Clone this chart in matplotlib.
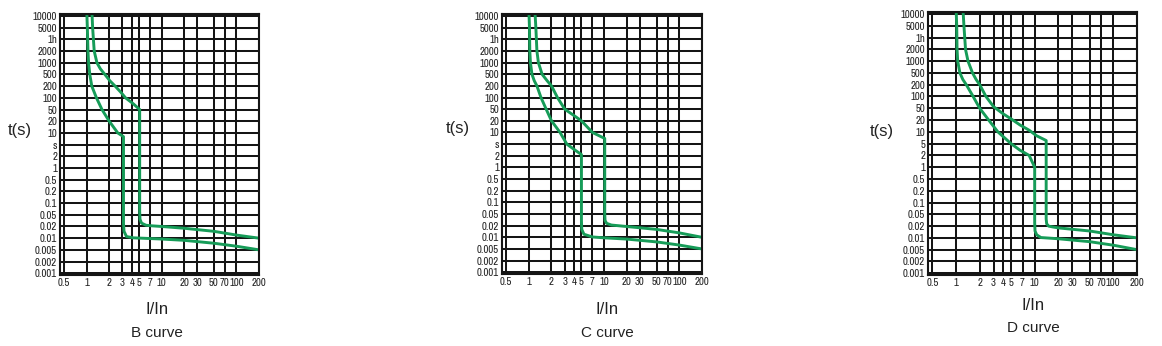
import numpy as np
import matplotlib
matplotlib.use("Agg")
import matplotlib.pyplot as plt
from matplotlib.ticker import FixedLocator, NullLocator
from matplotlib import font_manager

# ---------------- data ----------------
x_ticks = [0.5, 1, 2, 3, 4, 5, 7, 10, 20, 30, 50, 70, 100, 200]
x_tick_labels = ["0.5", "1", "2", "3", "4", "5", "7", "10", "20", "30", "50", "70", "100", "200"]

t_ticks = [0.001, 0.002, 0.005, 0.01, 0.02, 0.05, 0.1, 0.2, 0.5, 1, 2, 5, 10, 20,
           50, 100, 200, 500, 1000, 2000, 3600, 5000, 10000]
t_labels_bc = ["0.001", "0.002", "0.005", "0.01", "0.02", "0.05", "0.1", "0.2", "0.5", "1", "2", "s",
               "10", "20", "50", "100", "200", "500", "1000", "2000", "1h", "5000", "10000"]
t_labels_d = ["0.001", "0.002", "0.005", "0.01", "0.02", "0.05", "0.1", "0.2", "0.5", "1", "2", "5",
              "10", "20", "50", "100", "200", "500", "1000", "2000", "1h", "5000", "10000"]

# B curve
b_upper_x = [1.17, 1.2, 1.26, 1.37, 1.52, 1.75, 2.05, 2.4, 2.85, 3.3, 4.2, 5.1, 5.1, 5.15, 5.4, 6.2, 7.5, 10, 20, 50, 100, 200]
b_upper_t = [15000, 5000, 2000, 1000, 700, 500, 300, 200, 140, 100, 70, 50, 0.06, 0.035, 0.026, 0.022, 0.021, 0.02, 0.018, 0.015, 0.012, 0.01]
b_lower_x = [1.0, 1.02, 1.04, 1.06, 1.1, 1.17, 1.35, 1.6, 2.0, 2.6, 3.1, 3.1, 3.15, 3.4, 4.2, 10, 20, 50, 100, 200]
b_lower_t = [15000, 5000, 2000, 1000, 500, 200, 100, 50, 20, 10, 8, 0.025, 0.015, 0.011, 0.0102, 0.0095, 0.0088, 0.0074, 0.0062, 0.005]

# C curve
c_upper_x = [1.2, 1.24, 1.28, 1.34, 1.5, 1.75, 2.0, 2.4, 3.0, 4.0, 5.0, 7.0, 10.2, 10.2, 10.3, 10.8, 12.5, 20, 50, 100, 200]
c_upper_t = [15000, 5000, 2000, 1000, 500, 300, 200, 100, 50, 30, 20, 10, 7, 0.05, 0.03, 0.024, 0.021, 0.019, 0.016, 0.013, 0.01]
c_lower_x = [1.0, 1.02, 1.03, 1.05, 1.1, 1.18, 1.28, 1.45, 1.7, 2.0, 2.6, 3.2, 4.2, 5.0, 5.0, 5.05, 5.4, 7.0, 10, 20, 50, 100, 200]
c_lower_t = [15000, 5000, 2000, 1000, 500, 300, 200, 100, 50, 20, 10, 5, 3, 2.2, 0.03, 0.016, 0.012, 0.0102, 0.0097, 0.009, 0.0076, 0.0063, 0.005]

# D curve
d_upper_x = [1.22, 1.26, 1.32, 1.42, 1.62, 1.8, 2.0, 2.4, 3.0, 4.0, 5.0, 6.5, 8.5, 10.5, 14, 14, 14.2, 15, 17, 20, 50, 100, 200]
d_upper_t = [15000, 5000, 2000, 1000, 500, 300, 200, 100, 55, 32, 22, 15, 11, 8, 6, 0.035, 0.024, 0.02, 0.019, 0.018, 0.015, 0.012, 0.01]
d_lower_x = [1.0, 1.02, 1.03, 1.05, 1.12, 1.22, 1.35, 1.65, 2.0, 2.6, 3.4, 5.0, 6.5, 8.5, 10, 10, 10.1, 10.6, 12, 20, 50, 100, 200]
d_lower_t = [15000, 5000, 2000, 1000, 500, 300, 200, 100, 50, 20, 10, 5, 3, 2, 1, 0.025, 0.015, 0.012, 0.0102, 0.0095, 0.008, 0.0065, 0.005]

panels = [
    ("B curve", b_upper_x, b_upper_t, b_lower_x, b_lower_t, t_labels_bc),
    ("C curve", c_upper_x, c_upper_t, c_lower_x, c_lower_t, t_labels_bc),
    ("D curve", d_upper_x, d_upper_t, d_lower_x, d_lower_t, t_labels_d),
]

# ---------------- scale: equal spacing between labelled times ----------------
LOGT = np.log10(np.array(t_ticks, dtype=float))
IDX = np.arange(len(t_ticks), dtype=float)


def t_forward(t):
    lt = np.log10(np.clip(np.asarray(t, dtype=float), 1e-12, None))
    out = np.interp(lt, LOGT, IDX)
    lo = lt < LOGT[0]
    hi = lt > LOGT[-1]
    out = np.where(lo, (lt - LOGT[0]) / (LOGT[1] - LOGT[0]), out)
    out = np.where(hi, IDX[-1] + (lt - LOGT[-1]) / (LOGT[-1] - LOGT[-2]), out)
    return out


def t_inverse(i):
    i = np.asarray(i, dtype=float)
    lt = np.interp(i, IDX, LOGT)
    lt = np.where(i < 0, LOGT[0] + i * (LOGT[1] - LOGT[0]), lt)
    lt = np.where(i > IDX[-1], LOGT[-1] + (i - IDX[-1]) * (LOGT[-1] - LOGT[-2]), lt)
    return 10 ** lt


# ---------------- fonts ----------------
available = {f.name for f in font_manager.fontManager.ttflist}
narrow = [f for f in ["Liberation Sans Narrow", "Archivo Narrow", "Arimo", "Liberation Sans"]
          if f in available] + ["DejaVu Sans"]
regular = [f for f in ["Liberation Sans", "Arimo"] if f in available] + ["DejaVu Sans"]

# ---------------- figure ----------------
W, H = 1162, 346
fig = plt.figure(figsize=(W / 100, H / 100), dpi=100)
fig.patch.set_facecolor("white")

# pixel boxes: left, right, top, bottom
boxes = [(60, 259, 14, 275), (502, 702, 14, 274), (928, 1137, 12, 275)]
tlab_pos = [(20, 130), (458, 129), (882, 132)]
xlab_pos = [(157, 310), (607, 310), (1033, 305)]
title_pos = [(157, 333), (607, 333), (1033, 328)]

green = "#169c58"
gridc = "#151515"

for (title, ux, ut, lx, lt, ylabels), (l, r, t, b), tp, xp, ttp in zip(
        panels, boxes, tlab_pos, xlab_pos, title_pos):
    ax = fig.add_axes([l / W, 1 - b / H, (r - l) / W, (b - t) / H])
    ax.set_xscale("log")
    ax.set_yscale("function", functions=(t_forward, t_inverse))
    ax.set_xlim(0.44, 200)
    ax.set_ylim(t_inverse(-0.15), t_inverse(22.17))

    ax.xaxis.set_major_locator(FixedLocator(x_ticks))
    ax.xaxis.set_minor_locator(NullLocator())
    ax.set_xticklabels(x_tick_labels)
    ax.yaxis.set_major_locator(FixedLocator(t_ticks))
    ax.yaxis.set_minor_locator(NullLocator())
    ax.set_yticklabels(ylabels)

    ax.grid(True, which="major", color=gridc, linewidth=1.45)
    ax.set_axisbelow(True)
    for s in ax.spines.values():
        s.set_color(gridc)
        s.set_linewidth(1.5)
    ax.tick_params(length=0, pad=2, labelsize=7.8, colors="#222222")
    for lab in ax.get_xticklabels() + ax.get_yticklabels():
        lab.set_family(narrow)

    ax.plot(ux, ut, color=green, lw=2.1, solid_joinstyle="round", solid_capstyle="butt")
    ax.plot(lx, lt, color=green, lw=2.1, solid_joinstyle="round", solid_capstyle="butt")

    fig.text(tp[0] / W, 1 - tp[1] / H, "t(s)", ha="center", va="center",
             fontsize=12, family=regular, color="#222222")
    fig.text(xp[0] / W, 1 - xp[1] / H, "I/In", ha="center", va="center",
             fontsize=12, family=regular, color="#222222")
    fig.text(ttp[0] / W, 1 - ttp[1] / H, title, ha="center", va="center",
             fontsize=11, family=regular, color="#222222")

fig.savefig("out.png", dpi=100, facecolor="white")
